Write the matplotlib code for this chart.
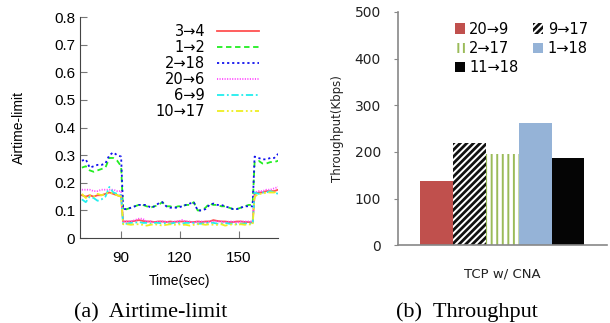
import numpy as np
import matplotlib
matplotlib.use('Agg')
import matplotlib.pyplot as plt
from matplotlib.ticker import FuncFormatter

# ---- (a) airtime-limit data ----
t_before = [70, 72, 74, 76, 78, 80, 82, 84, 86, 88, 90]
t_mid = list(range(91, 158, 2))
t_after = [158, 160, 162, 164, 166, 168, 170]
time = t_before + t_mid + t_after

flow_3_4 = ([0.155, 0.15, 0.155, 0.15, 0.155, 0.155, 0.16, 0.165, 0.16, 0.155, 0.15]
            + [0.06, 0.06, 0.06, 0.062, 0.065, 0.062, 0.06, 0.06, 0.058, 0.06,
               0.06, 0.058, 0.06, 0.058, 0.06, 0.06, 0.06, 0.058, 0.058, 0.06,
               0.058, 0.06, 0.06, 0.065, 0.062, 0.06, 0.06, 0.058, 0.058, 0.06,
               0.06, 0.058, 0.058, 0.056]
            + [0.16, 0.165, 0.165, 0.17, 0.17, 0.17, 0.175])
flow_1_2 = ([0.255, 0.26, 0.245, 0.24, 0.245, 0.25, 0.255, 0.29, 0.29, 0.28, 0.26]
            + [0.10, 0.105, 0.11, 0.115, 0.12, 0.12, 0.115, 0.11, 0.115, 0.12,
               0.13, 0.115, 0.115, 0.11, 0.115, 0.115, 0.12, 0.12, 0.13, 0.10,
               0.10, 0.11, 0.125, 0.12, 0.12, 0.115, 0.115, 0.11, 0.105, 0.105,
               0.11, 0.115, 0.12, 0.12]
            + [0.275, 0.28, 0.27, 0.27, 0.275, 0.275, 0.28])
flow_2_18 = ([0.28, 0.285, 0.255, 0.26, 0.265, 0.265, 0.27, 0.30, 0.31, 0.30, 0.295]
             + [0.105, 0.105, 0.11, 0.115, 0.12, 0.12, 0.12, 0.11, 0.115, 0.125,
                0.13, 0.115, 0.11, 0.11, 0.11, 0.115, 0.12, 0.125, 0.13, 0.10,
                0.10, 0.105, 0.12, 0.125, 0.12, 0.12, 0.115, 0.11, 0.105, 0.105,
                0.11, 0.115, 0.115, 0.115]
             + [0.295, 0.29, 0.285, 0.285, 0.29, 0.29, 0.305])
flow_20_6 = ([0.175, 0.175, 0.175, 0.17, 0.17, 0.175, 0.175, 0.175, 0.175, 0.17, 0.17]
             + [0.06, 0.06, 0.06, 0.065, 0.07, 0.07, 0.06, 0.06, 0.055, 0.06,
                0.06, 0.06, 0.055, 0.06, 0.06, 0.065, 0.06, 0.06, 0.055, 0.06,
                0.06, 0.055, 0.06, 0.06, 0.06, 0.06, 0.055, 0.06, 0.06, 0.055,
                0.06, 0.06, 0.06, 0.06]
             + [0.165, 0.17, 0.17, 0.175, 0.175, 0.18, 0.185])
flow_6_9 = ([0.14, 0.13, 0.15, 0.145, 0.135, 0.14, 0.15, 0.185, 0.165, 0.16, 0.155]
            + [0.05, 0.052, 0.055, 0.055, 0.058, 0.055, 0.055, 0.052, 0.055, 0.055,
               0.052, 0.055, 0.052, 0.055, 0.055, 0.052, 0.055, 0.055, 0.055, 0.052,
               0.052, 0.055, 0.055, 0.055, 0.052, 0.052, 0.055, 0.052, 0.052, 0.05,
               0.052, 0.052, 0.055, 0.05]
            + [0.165, 0.16, 0.165, 0.165, 0.17, 0.165, 0.16])
flow_10_17 = ([0.16, 0.145, 0.155, 0.15, 0.16, 0.155, 0.16, 0.165, 0.16, 0.155, 0.15]
              + [0.05, 0.05, 0.048, 0.05, 0.05, 0.048, 0.045, 0.048, 0.05, 0.048,
                 0.045, 0.048, 0.05, 0.048, 0.05, 0.048, 0.048, 0.045, 0.048, 0.05,
                 0.05, 0.048, 0.05, 0.048, 0.048, 0.05, 0.045, 0.048, 0.05, 0.048,
                 0.05, 0.048, 0.05, 0.048]
              + [0.15, 0.16, 0.16, 0.165, 0.165, 0.165, 0.17])

# ---- (b) throughput data ----
tput_labels = ['20→9', '9→17', '2→17', '1→18', '11→18']
tput_values = [137, 220, 195, 261, 186]

plt.rcParams['hatch.linewidth'] = 1.4

fig = plt.figure(figsize=(6.10, 3.23), dpi=100)

# ---------- left panel ----------
ax1 = fig.add_axes([0.131, 0.263, 0.325, 0.684])
series = [
    ('3→4', flow_3_4, '#ff5050', '-'),
    ('1→2', flow_1_2, '#22ee22', (0, (3, 2))),
    ('2→18', flow_2_18, '#1010ee', (0, (1.2, 1.6))),
    ('20→6', flow_20_6, '#ff44ff', (0, (0.6, 0.8))),
    ('6→9', flow_6_9, '#22eeee', (0, (4, 1.5, 1, 1.5))),
    ('10→17', flow_10_17, '#eeee22', (0, (4, 1.5, 1, 1.5, 1, 1.5))),
]
for name, vals, col, ls in series:
    ax1.plot(time, vals, color=col, linestyle=ls, lw=1.3, label=name)

sans = ['Liberation Sans', 'DejaVu Sans']
ax1.set_xlim(69, 170)
ax1.set_ylim(0, 0.8)
ax1.set_xticks([90, 120, 150])
ax1.set_yticks(np.arange(0, 0.81, 0.1))
ax1.yaxis.set_major_formatter(FuncFormatter(lambda v, p: '0' if abs(v) < 1e-9 else '%.1f' % v))
for s in ['top', 'right']:
    ax1.spines[s].set_visible(False)
ax1.spines['left'].set_color('#444444')
ax1.spines['bottom'].set_color('#444444')
ax1.tick_params(direction='in', length=5, labelsize=11, color='#777777')
ax1.tick_params(axis='x', pad=9)
for lbl in ax1.get_xticklabels() + ax1.get_yticklabels():
    lbl.set_family(sans)
ax1.set_xlabel('Time(sec)', fontsize=10, family=sans, labelpad=7)
ax1.set_ylabel('Airtime-limit', fontsize=10, family=sans, labelpad=20)
leg1 = ax1.legend(loc='upper right', bbox_to_anchor=(0.97, 1.03), frameon=False, markerfirst=False,
                  prop={'family': 'DejaVu Sans', 'size': 10.5}, handlelength=2.9,
                  labelspacing=0.08, handletextpad=0.8)
for txt in leg1.get_texts():
    txt.set_ha('right')

# ---------- right panel ----------
ax2 = fig.add_axes([0.652, 0.241, 0.343, 0.722])
bar_w = 0.157
x0 = -2 * bar_w
styles = [
    dict(color='#c0504d'),
    dict(facecolor='#111111', edgecolor='white', hatch='/////', lw=0),
    dict(facecolor='white', edgecolor='#9bbb59', hatch='|||', lw=0),
    dict(color='#95b3d7'),
    dict(color='#050505'),
]
handles = []
for i, (lab, val) in enumerate(zip(tput_labels, tput_values)):
    b = ax2.bar(x0 + i * bar_w, val, width=bar_w, label=lab, **styles[i])
    handles.append(b)

ax2.set_xlim(-0.5, 0.5)
ax2.set_ylim(0, 500)
ax2.set_yticks([0, 100, 200, 300, 400, 500])
ax2.set_xticks([0])
ax2.set_xticklabels(['TCP w/ CNA'], fontsize=9.5, color='#222222')
ax2.tick_params(axis='x', length=0, pad=16)
ax2.tick_params(axis='y', length=3, color='#888888', labelsize=10, labelcolor='#222222', pad=9)
for s in ['top', 'right']:
    ax2.spines[s].set_visible(False)
for s in ['left', 'bottom']:
    ax2.spines[s].set_color('#888888')
    ax2.spines[s].set_linewidth(1.2)
ax2.set_ylabel('Throughput(Kbps)', fontsize=8.5, color='#222222', labelpad=8)
order = [0, 2, 4, 1, 3]
ax2.legend([handles[i] for i in order], [tput_labels[i] for i in order],
           ncol=2, loc='upper left', bbox_to_anchor=(0.21, 1.015), frameon=False,
           fontsize=10.5, handlelength=0.7, handleheight=0.7, handletextpad=0.3,
           columnspacing=1.0, labelspacing=0.3)

# captions
fig.text(0.247, 0.018, '(a)  Airtime-limit', ha='center', fontsize=16, family='Liberation Serif')
fig.text(0.765, 0.018, '(b)  Throughput', ha='center', fontsize=16, family='Liberation Serif')

fig.savefig('out.png', dpi=100)
